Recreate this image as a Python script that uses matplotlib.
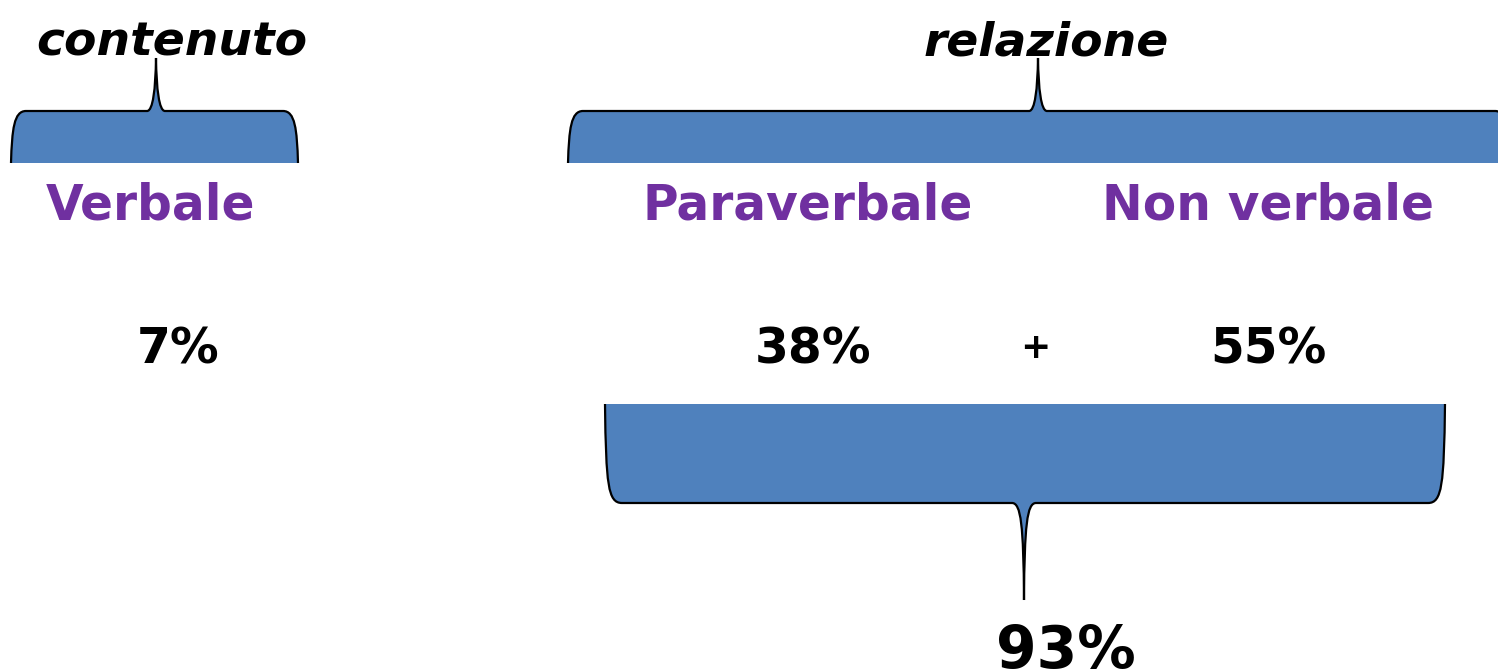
import matplotlib
matplotlib.use("Agg")
import matplotlib.pyplot as plt
from matplotlib.path import Path
from matplotlib.patches import PathPatch

# labels of the diagram
group_labels = ["contenuto", "relazione"]
channel_labels = ["Verbale", "Paraverbale", "Non verbale"]
channel_values = ["7%", "38%", "55%"]
total_label = "93%"
plus_sign = "+"

blue = "#4F81BD"
purple = "#7030A0"
font = ["Comic Sans MS", "DejaVu Sans"]

#builds a curly brace with the open side at y_open, flat side at y_line and tip at y_tip
def brace(ax, x0, x1, xtip, y_open, y_line, y_tip, corner=15, spread=9):
    d = 1 if y_line < y_open else -1   # direction from line to open side
    verts = [(x0, y_open),
             (x0 + 1, y_line + d * 18), (x0 + 3, y_line), (x0 + corner, y_line),
             (xtip - spread, y_line),
             (xtip - 3, y_line), (xtip - 0.5, y_line - d * 22), (xtip, y_tip),
             (xtip + 0.5, y_line - d * 22), (xtip + 3, y_line), (xtip + spread, y_line),
             (x1 - corner, y_line),
             (x1 - 3, y_line), (x1 - 1, y_line + d * 18), (x1, y_open)]
    codes = [Path.MOVETO, Path.CURVE4, Path.CURVE4, Path.CURVE4, Path.LINETO,
             Path.CURVE4, Path.CURVE4, Path.CURVE4,
             Path.CURVE4, Path.CURVE4, Path.CURVE4, Path.LINETO,
             Path.CURVE4, Path.CURVE4, Path.CURVE4]
    fill = Path(verts + [(x0, y_open)], codes + [Path.CLOSEPOLY])
    ax.add_patch(PathPatch(fill, facecolor=blue, edgecolor="none", zorder=1))
    ax.add_patch(PathPatch(Path(verts, codes), facecolor="none",
                           edgecolor="black", lw=1.6, zorder=2))

fig = plt.figure(figsize=(14.98, 6.72), dpi=100)
ax = fig.add_axes([0, 0, 1, 1])
ax.set_xlim(0, 1498)
ax.set_ylim(672, 0)
ax.axis("off")

# top braces
brace(ax, 11, 298, 156, 163, 111, 58)
brace(ax, 568, 1510, 1038, 163, 111, 58)
# bottom brace
brace(ax, 605, 1445, 1024, 404, 503, 600, corner=17, spread=12)

ax.text(172, 55, group_labels[0], fontsize=34, fontweight="bold", style="italic",
        ha="center", va="baseline", family=font)
ax.text(1046, 55, group_labels[1], fontsize=34, fontweight="bold", style="italic",
        ha="center", va="baseline", family=font)

channel_x = [151, 808, 1268]
for x, lab in zip(channel_x, channel_labels):
    ax.text(x, 219, lab, fontsize=35, fontweight="bold", color=purple,
            ha="center", va="baseline", family=font)
for x, val in zip([178, 813, 1268], channel_values):
    ax.text(x, 364, val, fontsize=35, fontweight="bold",
            ha="center", va="baseline", family=font)
ax.text(1035, 358, plus_sign, fontsize=26, fontweight="bold",
        ha="center", va="baseline", family=font)
ax.text(1066, 668, total_label, fontsize=42, fontweight="bold",
        ha="center", va="baseline", family=font)

fig.savefig("out.png", dpi=100)
